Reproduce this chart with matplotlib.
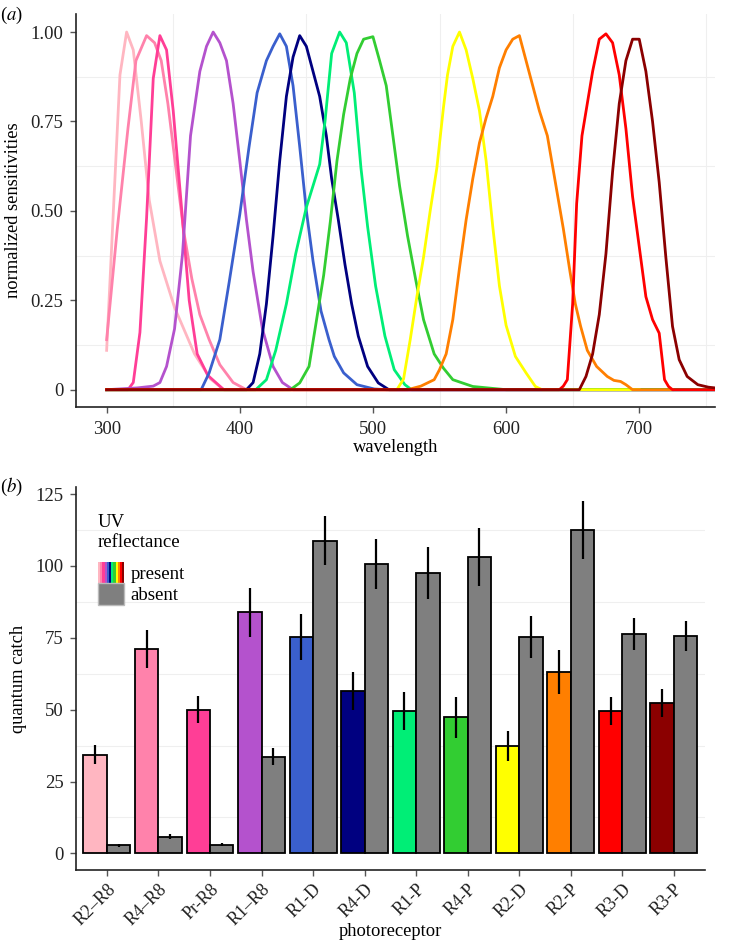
import matplotlib
matplotlib.use('Agg')
import matplotlib.pyplot as plt
from matplotlib.patches import Patch
from matplotlib.legend_handler import HandlerTuple

plt.rcParams['font.family'] = ['Liberation Serif', 'DejaVu Serif']
plt.rcParams['mathtext.fontset'] = 'stix'

# ---- panel (a): normalized spectral sensitivities ----
wl_R2_R8 = [300, 310, 315, 320, 326, 332, 340, 351, 366, 378, 388, 757]
s_R2_R8 = [0.11, 0.88, 1.00, 0.95, 0.75, 0.53, 0.36, 0.23, 0.10, 0.03, 0.0, 0.0]

wl_R4_R8 = [300, 308, 316, 322, 330, 336, 341, 346, 352, 358, 364, 370, 377, 385, 395, 405, 757]
s_R4_R8 = [0.14, 0.45, 0.73, 0.92, 0.99, 0.97, 0.92, 0.80, 0.62, 0.44, 0.31, 0.21, 0.14, 0.07, 0.02, 0.0, 0.0]

wl_Pr_R8 = [300, 316, 320, 325, 330, 335, 340, 345, 350, 356, 362, 368, 376, 388, 757]
s_Pr_R8 = [0, 0, 0.02, 0.16, 0.48, 0.87, 0.99, 0.95, 0.78, 0.52, 0.25, 0.10, 0.04, 0.0, 0.0]

wl_R1_R8 = [300, 323, 335, 340, 345, 351, 357, 363, 370, 375, 380, 385, 390, 395, 400, 405, 410, 417, 425, 432, 440, 757]
s_R1_R8 = [0, 0.005, 0.01, 0.02, 0.065, 0.17, 0.38, 0.71, 0.89, 0.96, 1.0, 0.97, 0.92, 0.80, 0.64, 0.475, 0.33, 0.17, 0.065, 0.02, 0.0, 0.0]

wl_R1_D = [300, 371, 377, 385, 392, 400, 407, 413, 420, 425, 430, 435, 440, 445, 450, 455, 461, 467, 471, 478, 488, 501, 510, 757]
s_R1_D = [0, 0, 0.047, 0.14, 0.30, 0.49, 0.68, 0.83, 0.92, 0.96, 0.995, 0.96, 0.85, 0.68, 0.50, 0.36, 0.22, 0.14, 0.093, 0.047, 0.014, 0.002, 0, 0]

wl_R4_D = [300, 405, 410, 415, 420, 425, 430, 435, 440, 445, 450, 455, 460, 465, 469, 474, 479, 484, 489, 496, 504, 512, 757]
s_R4_D = [0, 0, 0.02, 0.10, 0.24, 0.43, 0.64, 0.82, 0.93, 0.99, 0.96, 0.89, 0.82, 0.71, 0.59, 0.475, 0.35, 0.24, 0.15, 0.065, 0.019, 0.0, 0.0]

wl_R1_P = [300, 412, 420, 427, 435, 442, 450, 460, 464, 469, 475, 480, 486, 491, 496, 502, 509, 516, 524, 529, 757]
s_R1_P = [0, 0, 0.028, 0.11, 0.24, 0.38, 0.51, 0.63, 0.75, 0.94, 1.0, 0.97, 0.83, 0.62, 0.456, 0.29, 0.15, 0.056, 0.014, 0, 0]

wl_R4_P = [300, 438, 445, 452, 457, 463, 468, 473, 478, 483, 488, 493, 500, 505, 510, 515, 520, 526, 532, 538, 546, 553, 560, 575, 600, 757]
s_R4_P = [0, 0, 0.019, 0.065, 0.18, 0.32, 0.47, 0.64, 0.77, 0.87, 0.94, 0.98, 0.987, 0.92, 0.85, 0.71, 0.57, 0.43, 0.31, 0.196, 0.10, 0.06, 0.028, 0.009, 0.0, 0.0]

wl_R2_D = [300, 518, 523, 528, 533, 538, 543, 548, 553, 556, 560, 565, 570, 575, 580, 585, 590, 595, 600, 607, 615, 622, 627, 700]
s_R2_D = [0, 0, 0.03, 0.14, 0.26, 0.37, 0.50, 0.62, 0.79, 0.88, 0.96, 1.0, 0.95, 0.87, 0.78, 0.64, 0.456, 0.29, 0.18, 0.093, 0.047, 0.009, 0, 0]

wl_R2_P = [300, 526, 536, 546, 550, 555, 560, 565, 570, 575, 580, 585, 590, 595, 600, 605, 610, 615, 620, 625, 631, 637, 643, 648, 652, 656, 661, 668, 676, 681, 686, 690, 695, 725]
s_R2_P = [0, 0, 0.01, 0.028, 0.056, 0.10, 0.196, 0.34, 0.475, 0.59, 0.69, 0.76, 0.82, 0.90, 0.95, 0.98, 0.99, 0.92, 0.85, 0.78, 0.71, 0.58, 0.45, 0.33, 0.24, 0.177, 0.11, 0.065, 0.037, 0.026, 0.023, 0.014, 0, 0]

wl_R3_D = [300, 640, 643, 646, 650, 653, 657, 661, 665, 670, 675, 680, 685, 690, 695, 700, 705, 710, 715, 719, 722, 725, 757]
s_R3_D = [0, 0, 0.01, 0.028, 0.24, 0.52, 0.71, 0.80, 0.89, 0.98, 0.995, 0.97, 0.88, 0.73, 0.54, 0.40, 0.26, 0.196, 0.158, 0.028, 0.009, 0, 0]

wl_R3_P = [300, 655, 660, 665, 670, 675, 680, 685, 690, 695, 700, 705, 710, 715, 720, 725, 730, 736, 744, 752, 757]
s_R3_P = [0, 0, 0.037, 0.10, 0.21, 0.38, 0.61, 0.80, 0.92, 0.98, 0.98, 0.89, 0.75, 0.58, 0.37, 0.177, 0.084, 0.037, 0.014, 0.007, 0.005]

# ---- panel (b): quantum catch ----
receptors = ['R2–R8', 'R4–R8', 'Pr-R8', 'R1–R8', 'R1-D', 'R4-D',
             'R1-P', 'R4-P', 'R2-D', 'R2-P', 'R3-D', 'R3-P']
colors = ['#FFB6C1', '#FF82AB', '#FF3E96', '#B452CD', '#3A5FCD', '#000080',
          '#00EE76', '#32CD32', '#FFFF00', '#FF7F00', '#FF0000', '#8B0000']
present = [34.3, 71.2, 50.0, 83.8, 75.2, 56.5, 49.5, 47.3, 37.3, 63.0, 49.5, 52.4]
present_err = [3.3, 6.6, 4.7, 8.5, 7.9, 6.7, 6.5, 7.0, 5.3, 7.7, 4.9, 4.8]
absent = [2.8, 5.8, 3.0, 33.6, 108.8, 100.8, 97.6, 103.0, 75.3, 112.5, 76.4, 75.7]
absent_err = [0.5, 0.8, 0.5, 2.9, 8.5, 8.7, 9.1, 10.1, 7.4, 10.2, 5.6, 5.2]

curves = [(wl_R2_R8, s_R2_R8), (wl_R4_R8, s_R4_R8), (wl_Pr_R8, s_Pr_R8),
          (wl_R1_R8, s_R1_R8), (wl_R1_D, s_R1_D), (wl_R4_D, s_R4_D),
          (wl_R1_P, s_R1_P), (wl_R4_P, s_R4_P), (wl_R2_D, s_R2_D),
          (wl_R2_P, s_R2_P), (wl_R3_D, s_R3_D), (wl_R3_P, s_R3_P)]

FS = 13.5      # tick and legend text
LFS = 13.3     # axis titles
fig = plt.figure(figsize=(7.38, 9.44), dpi=100)
ax1 = fig.add_axes([0.103, 0.569, 0.866, 0.416])
ax2 = fig.add_axes([0.103, 0.078, 0.852, 0.406])


def style_axes(ax):
    for side in ['top', 'right']:
        ax.spines[side].set_visible(False)
    for side in ['left', 'bottom']:
        ax.spines[side].set_color('#222222')
        ax.spines[side].set_linewidth(1.2)
    ax.tick_params(colors='#555555', length=4, width=1.0, labelsize=FS, labelcolor='#222222')


# panel (a)
style_axes(ax1)
for v in [350, 450, 550, 650, 750]:
    ax1.axvline(v, color='#EFEFEF', lw=0.8, zorder=0)
for v in [0.125, 0.375, 0.625, 0.875]:
    ax1.axhline(v, color='#EFEFEF', lw=0.8, zorder=0)
for (wl, s), c in zip(curves, colors):
    ax1.plot(wl, s, color=c, lw=2.0, solid_joinstyle='round')
ax1.set_xlim(277, 757)
ax1.set_ylim(-0.048, 1.05)
ax1.set_xticks([300, 400, 500, 600, 700])
ax1.set_yticks([0, 0.25, 0.5, 0.75, 1.0])
ax1.set_yticklabels(['0', '0.25', '0.50', '0.75', '1.00'])
ax1.tick_params(axis='x', pad=6)
ax1.tick_params(axis='y', pad=5)
ax1.set_xlabel('wavelength', fontsize=LFS, labelpad=1)
ax1.set_ylabel('normalized sensitivities', fontsize=LFS, labelpad=6)

# panel (b)
style_axes(ax2)
for v in [12.5, 37.5, 62.5, 87.5, 112.5]:
    ax2.axhline(v, color='#EFEFEF', lw=0.8, zorder=0)
x = list(range(1, len(receptors) + 1))
w = 0.455
xp = [i - w / 2 for i in x]
xa = [i + w / 2 for i in x]
ax2.bar(xp, present, width=w, color=colors, edgecolor='black', linewidth=1.3, zorder=2)
ax2.bar(xa, absent, width=w, color='#7F7F7F', edgecolor='black', linewidth=1.3, zorder=2)
ax2.errorbar(xp, present, yerr=present_err, fmt='none', ecolor='black', elinewidth=1.6, capsize=0, zorder=3)
ax2.errorbar(xa, absent, yerr=absent_err, fmt='none', ecolor='black', elinewidth=1.6, capsize=0, zorder=3)
ax2.set_xlim(0.4, 12.6)
ax2.set_ylim(-5.9, 127.4)
ax2.set_yticks([0, 25, 50, 75, 100, 125])
ax2.set_xticks(x)
ax2.set_xticklabels(receptors, rotation=45, ha='right', va='top', rotation_mode='anchor', fontsize=13)
ax2.tick_params(axis='y', pad=5)
ax2.set_xlabel('photoreceptor', fontsize=LFS, labelpad=-4)
ax2.set_ylabel('quantum catch', fontsize=LFS, labelpad=6)

rainbow = tuple(Patch(facecolor=c, edgecolor='none') for c in colors)
grey = Patch(facecolor='#7F7F7F', edgecolor='#BBBBBB')
leg = ax2.legend([rainbow, grey], ['present', 'absent'], title='UV\nreflectance',
                 handler_map={tuple: HandlerTuple(ndivide=None, pad=0)},
                 loc='upper left', bbox_to_anchor=(0.035, 0.93), frameon=False,
                 fontsize=FS, title_fontsize=FS, alignment='left',
                 handlelength=1.4, handleheight=1.4, handletextpad=0.35, labelspacing=0.0,
                 borderaxespad=0, borderpad=0)
leg._legend_box.sep = 8

fig.text(0.0, 0.984, r'($a$)', fontsize=FS, va='center')
fig.text(0.0, 0.484, r'($b$)', fontsize=FS, va='center')

fig.savefig('out.png', dpi=100)
